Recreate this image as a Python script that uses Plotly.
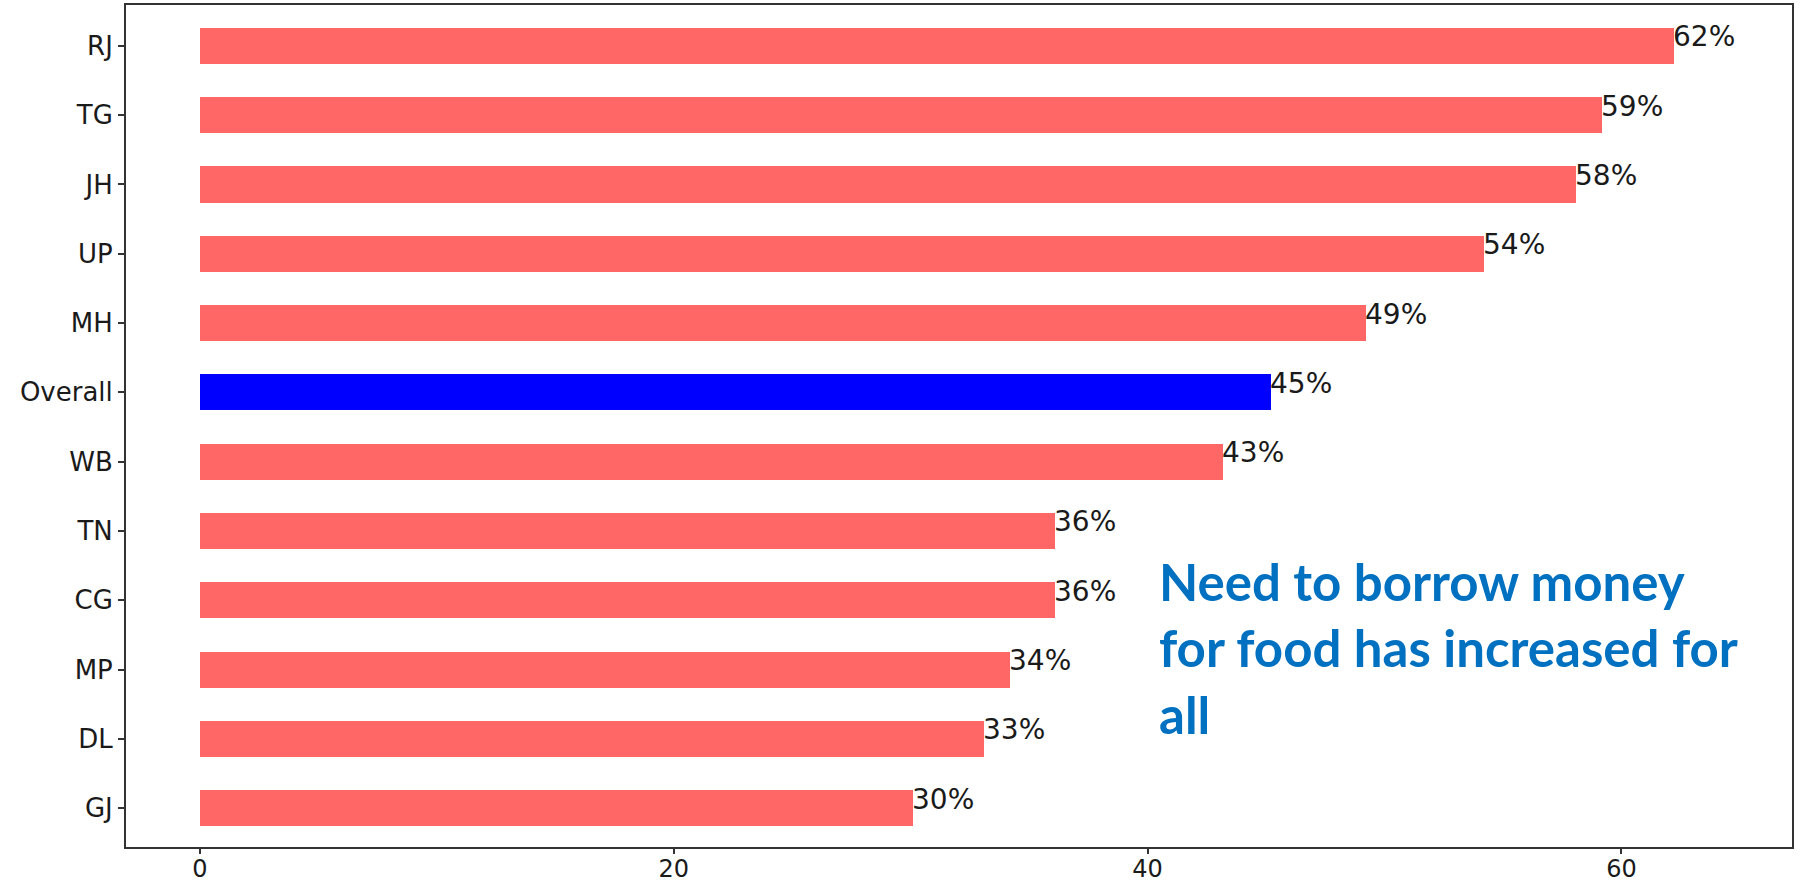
import plotly.graph_objects as go

categories = ["RJ", "TG", "JH", "UP", "MH", "Overall", "WB", "TN", "CG", "MP", "DL", "GJ"]
values = [62.2, 59.2, 58.1, 54.2, 49.2, 45.2, 43.2, 36.1, 36.1, 34.2, 33.1, 30.1]
labels = ["62%", "59%", "58%", "54%", "49%", "45%", "43%", "36%", "36%", "34%", "33%", "30%"]
x_ticks = [0, 20, 40, 60]
note_text = "Need to borrow money<br>for food has increased for<br>all"

RED = "#FF6666"
BLUE = "#0000FF"
colors = [BLUE if c == "Overall" else RED for c in categories]

fig = go.Figure()
fig.add_trace(go.Bar(
    x=values, y=categories, orientation="h",
    marker=dict(color=colors, line=dict(width=0)),
    width=0.52, hoverinfo="skip",
))

for c, v, lab in zip(categories, values, labels):
    fig.add_annotation(
        x=v, y=c, text=lab, showarrow=False, xanchor="left", yanchor="middle",
        yshift=9, xshift=-3,
        font=dict(family="DejaVu Sans", size=28, color="#1a1a1a"),
    )

fig.add_annotation(
    xref="paper", yref="paper", x=0.619, y=0.236, text=note_text,
    showarrow=False, xanchor="left", yanchor="middle", align="left",
    font=dict(family="Lato", size=51, color="#0070C0", weight="bold"),
)

fig.update_layout(
    width=1801, height=886,
    margin=dict(l=126, r=9, t=5, b=39),
    paper_bgcolor="white", plot_bgcolor="white",
    showlegend=False,
    bargap=0,
)
fig.update_xaxes(
    range=[-3.12, 67.2], tickvals=x_ticks, ticktext=[str(t) for t in x_ticks],
    showgrid=False, zeroline=False, automargin=False,
    showline=True, linecolor="#333333", linewidth=2, mirror=True,
    ticks="outside", ticklen=5, tickwidth=1.5, tickcolor="#333333",
    ticklabelstandoff=-6,
    tickfont=dict(family="DejaVu Sans", size=24, color="#1a1a1a"),
)
fig.update_yaxes(
    type="category", categoryorder="array", categoryarray=categories,
    range=[11.56, -0.59],
    showgrid=False, zeroline=False, automargin=False,
    showline=True, linecolor="#333333", linewidth=2, mirror=True,
    ticks="outside", ticklen=6, tickwidth=1.5, tickcolor="#333333",
    tickfont=dict(family="DejaVu Sans", size=26, color="#1a1a1a"),
)

fig.write_html(
    "out.html",
    config={"displayModeBar": False},
    post_script="document.body.style.margin='0';document.body.style.overflow='hidden';",
)
